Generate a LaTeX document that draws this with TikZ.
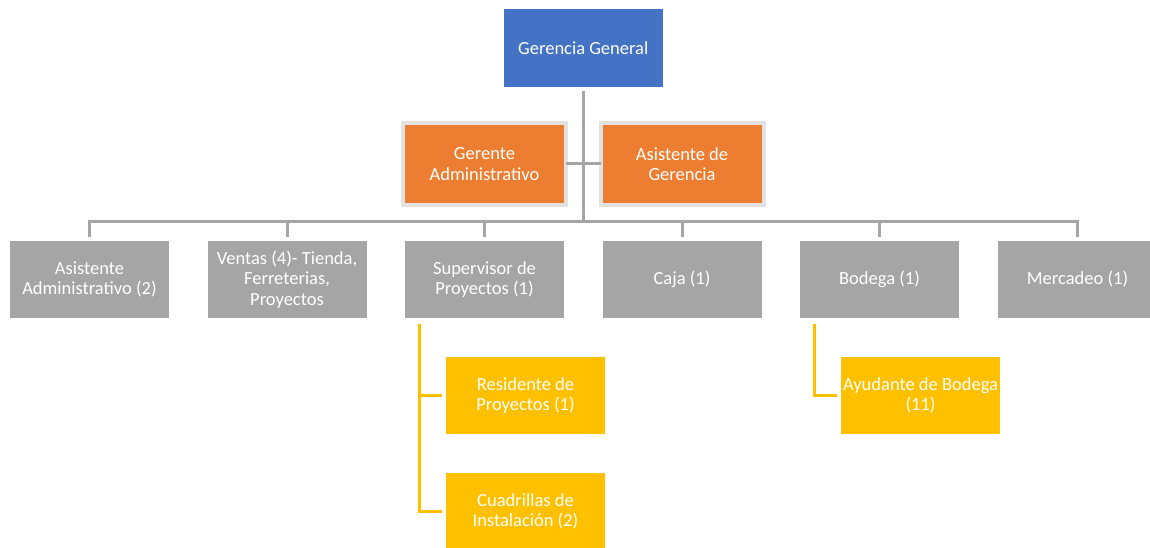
\documentclass[tikz,border=0pt]{standalone}
\usepackage{fontspec}
\setmainfont{Carlito}
\definecolor{gblue}{HTML}{4472C4}
\definecolor{gorange}{HTML}{ED7D31}
\definecolor{ggray}{HTML}{A5A5A5}
\definecolor{ggold}{HTML}{FFC000}
\definecolor{gborder}{HTML}{E2E2E2}
\begin{document}
\begin{tikzpicture}[x=1pt,y=-1pt,
  box/.style={rectangle, inner sep=0pt, outer sep=0pt, minimum width=159pt, minimum height=77pt,
    text=white, align=center, font=\fontsize{18.5}{20.5}\selectfont},
  topbox/.style={box, fill=gblue, minimum width=159.5pt, minimum height=78pt},
  asbox/.style={box, fill=gorange, draw=gborder, line width=4pt, minimum width=163pt, minimum height=82pt},
  chbox/.style={box, fill=ggray},
  subbox/.style={box, fill=ggold},
  conn/.style={draw=ggray, line width=3pt},
  yconn/.style={draw=ggold, line width=2.5pt}]
\useasboundingbox (0,0) rectangle (1150,548);
\node[topbox] (gg) at (583.25,48) {Gerencia General};
\node[asbox] (ga) at (484.5,164) {Gerente\\Administrativo};
\node[asbox] (ag) at (682,164) {Asistente de\\Gerencia};
\node[chbox] (c1) at (89.5,279.5) {Asistente\\Administrativo (2)};
\node[chbox] (c2) at (287,279.5) {Ventas (4)- Tienda,\\Ferreterias,\\Proyectos};
\node[chbox] (c3) at (484.5,279.5) {Supervisor de\\Proyectos (1)};
\node[chbox] (c4) at (682,279.5) {Caja (1)};
\node[chbox] (c5) at (879.5,279.5) {Bodega (1)};
\node[chbox] (c6) at (1077.5,279.5) {Mercadeo (1)};
\node[subbox] (res) at (525.5,395.5) {Residente de\\Proyectos (1)};
\node[subbox] (cua) at (525.5,511.5) {Cuadrillas de\\Instalación (2)};
\node[subbox] (ayu) at (920.5,395.5) {Ayudante de Bodega\\(11)};
\coordinate (bus) at (583.25,221.5);
\coordinate (sv) at (419.3,323.5);
\coordinate (bv) at (814.3,323.5);
\draw[conn] ([yshift=-4pt]gg.south) -- (bus);
\draw[conn] (ga.east) -- (ag.west);
\foreach \c in {c1,c2,c3,c4,c5,c6}
  \draw[conn] ([yshift=4.5pt]\c.north) |- (bus);
\draw[yconn] (sv) |- ([xshift=-4pt]res.west);
\draw[yconn] (sv) |- ([xshift=-4pt]cua.west);
\draw[yconn] (bv) |- ([xshift=-4pt]ayu.west);
\end{tikzpicture}
\end{document}
